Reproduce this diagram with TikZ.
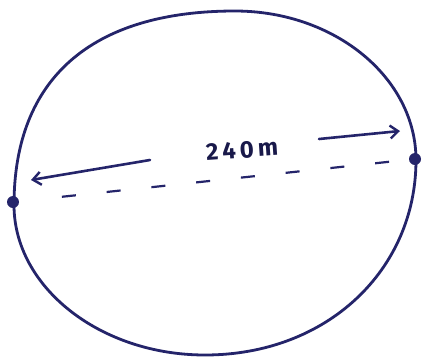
\documentclass[tikz,border=0pt]{standalone}
\usepackage{fontspec}
\setmainfont{Fira Sans}
\usetikzlibrary{arrows.meta}
\definecolor{ink}{HTML}{24246A}
\tikzset{
  pen/.style={draw=ink, line width=2.8pt, line cap=round, line join=round},
  dotnode/.style={circle, fill=ink, inner sep=0pt, minimum size=12pt},
  dimarrow/.style={pen, line width=2.6pt, -{Straight Barb[length=8pt,width=13pt,line width=2.4pt]}},
  diam/.style={draw=ink, line width=2.2pt, dash pattern=on 14pt off 31pt, dash phase=14pt}
}
\begin{document}
\begin{tikzpicture}[x=1pt,y=-1pt]
\useasboundingbox (0,0) rectangle (424,360);
\fill[white] (0,0) rectangle (424,360);
% outline
\coordinate (T) at (235,11);
\coordinate (E) at (416,160);
\coordinate (B) at (205,355);
\coordinate (W) at (14,205);
\draw[pen] (T) .. controls (335,11) and (416,78) .. (E)
  .. controls (416,270) and (327,355) .. (B)
  .. controls (100,355) and (14,287) .. (W)
  .. controls (14,79) and (91,11) .. (T) -- cycle;
% end points
\node[dotnode] (L) at (13,202) {};
\node[dotnode] (R) at (415,159) {};
\draw[diam, shorten <=12pt] (L) -- (R);
% dimension arrows
\coordinate (la) at (150,160);
\coordinate (lb) at (31,180);
\coordinate (ra) at (319,139);
\coordinate (rb) at (400,131);
\draw[dimarrow] (la) -- (lb);
\draw[dimarrow] (ra) -- (rb);
\node[text=ink!70!black, font=\fontsize{24}{28}\selectfont\bfseries, rotate=4] (lab) at (242,150) {2\,4\,0\,m};
\end{tikzpicture}
\end{document}
